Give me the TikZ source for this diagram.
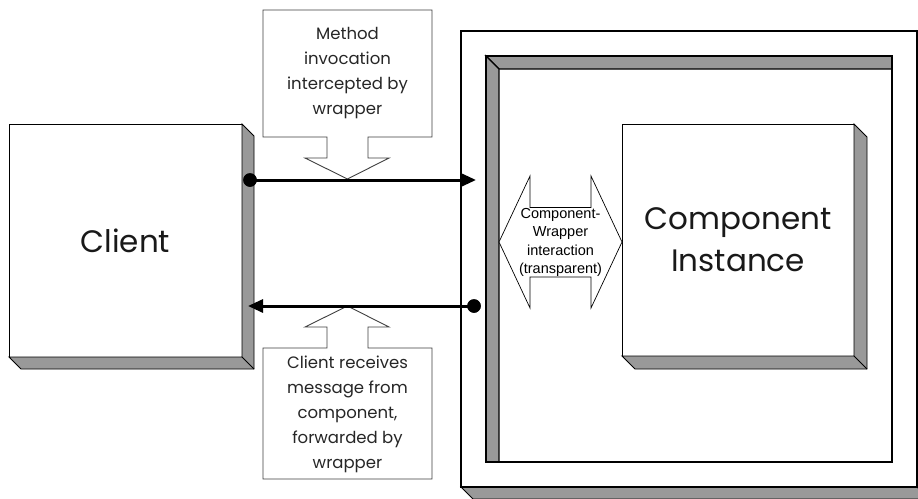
\documentclass[tikz,border=0pt]{standalone}
\usepackage{fontspec}
\setmainfont{Poppins}
\newfontfamily\arialfont{Liberation Sans}
\usetikzlibrary{arrows.meta,calc}
\definecolor{bevel}{HTML}{999999}
\tikzset{
  face/.style={draw=black, line width=0.9pt, fill=white, inner sep=0pt, outer sep=0pt},
  bevelfill/.style={fill=bevel, draw=black, line width=0.9pt, line join=miter},
  callout/.style={draw=black!75, line width=0.9pt, fill=white, line join=miter},
  calltext/.style={align=center, font=\fontsize{16.5}{25}\selectfont, text=black!85},
  bigtext/.style={align=center, font=\fontsize{31}{42}\selectfont, text=black!90},
  smalltext/.style={align=center, font=\arialfont\fontsize{14.5}{18.5}\selectfont},
  signal/.style={line width=3pt, -{Triangle[length=15pt,width=13pt]}},
  dot/.style={circle, fill=black, minimum size=13.5pt, inner sep=0pt, outer sep=0pt},
}
% raised bevel on the right and bottom of a node
\newcommand\bevelshadow[2]{%
  \filldraw[bevelfill] (#1.north east) -- ++(#2,#2)
     -- ($(#1.south east)+(#2,#2)$) -- ($(#1.south west)+(#2,#2)$)
     -- (#1.south west) -- (#1.south east) -- cycle;
  \draw[line width=0.9pt] (#1.south east) -- ++(#2,#2);
}
\begin{document}
\begin{tikzpicture}[x=1pt,y=-1pt]
\clip (0,0) rectangle (918,498);
\fill[white] (0,0) rectangle (918,498);

% wrapper (outer raised box)
\node[face, line width=1.2pt, minimum width=456pt, minimum height=456pt] (wrap) at (689,259) {};
\bevelshadow{wrap}{12}
\draw[line width=1.2pt] (wrap.north west) rectangle (wrap.south east);

% recessed frame inside the wrapper
\node[face, line width=1.4pt, minimum width=406pt, minimum height=406pt] (frame) at (689,259) {};
\filldraw[bevelfill, line width=1.4pt] (frame.north west) -- (frame.north east)
   -- ($(frame.north east)+(0,13)$) -- ($(frame.north west)+(13,13)$) -- cycle;
\filldraw[bevelfill, line width=1.4pt] (frame.north west) -- ($(frame.north west)+(13,13)$)
   -- ($(frame.south west)+(13,0)$) -- (frame.south west) -- cycle;
\draw[line width=1.4pt] (frame.north west) rectangle (frame.south east);

% component instance
\node[face, minimum width=232pt, minimum height=232pt, bigtext] (comp) at (738,240) {Component\\Instance};
\bevelshadow{comp}{13}

% client
\node[face, minimum width=233pt, minimum height=233pt, bigtext] (client) at (125.5,240.5) {Client};
\bevelshadow{client}{12}

% two-headed block arrow between wrapper and component
\filldraw[callout, draw=black, line width=0.7pt]
  (499,242) -- (530,176) -- (530,207.5) -- (591,207.5) -- (591,176) -- (622,242)
  -- (591,308) -- (591,277) -- (530,277) -- (530,308) -- cycle;
\node[smalltext] (iface) at (560.5,242.5) {Component-\\Wrapper\\interaction\\(transparent)};

% callout above the call arrow
\filldraw[callout] (263,10) -- (432,10) -- (432,137) -- (368,137) -- (368,158) -- (389,158)
  -- (347.5,179) -- (305,158) -- (327,158) -- (327,137) -- (263,137) -- cycle;
\node[calltext] (callin) at (347.5,73.5) {Method\\invocation\\intercepted by\\wrapper};

% callout below the return arrow
\filldraw[callout] (347.5,306) -- (389,327) -- (368,327) -- (368,348) -- (432,348) -- (432,479)
  -- (263,479) -- (263,348) -- (327,348) -- (327,327) -- (305,327) -- cycle;
\node[calltext] (callout) at (347.5,414) {Client receives\\message from\\component,\\forwarded by\\wrapper};

% call and return connectors
\node[dot] (d1) at (250,180) {};
\coordinate (in1) at (476,180);
\draw[signal] (d1.center) -- (in1);
\node[dot] (d1) at (250,180) {};

\node[dot] (d2) at (474,306) {};
\coordinate (in2) at (248,306);
\draw[signal] (d2.center) -- (in2);
\node[dot] (d2) at (474,306) {};
\end{tikzpicture}
\end{document}
